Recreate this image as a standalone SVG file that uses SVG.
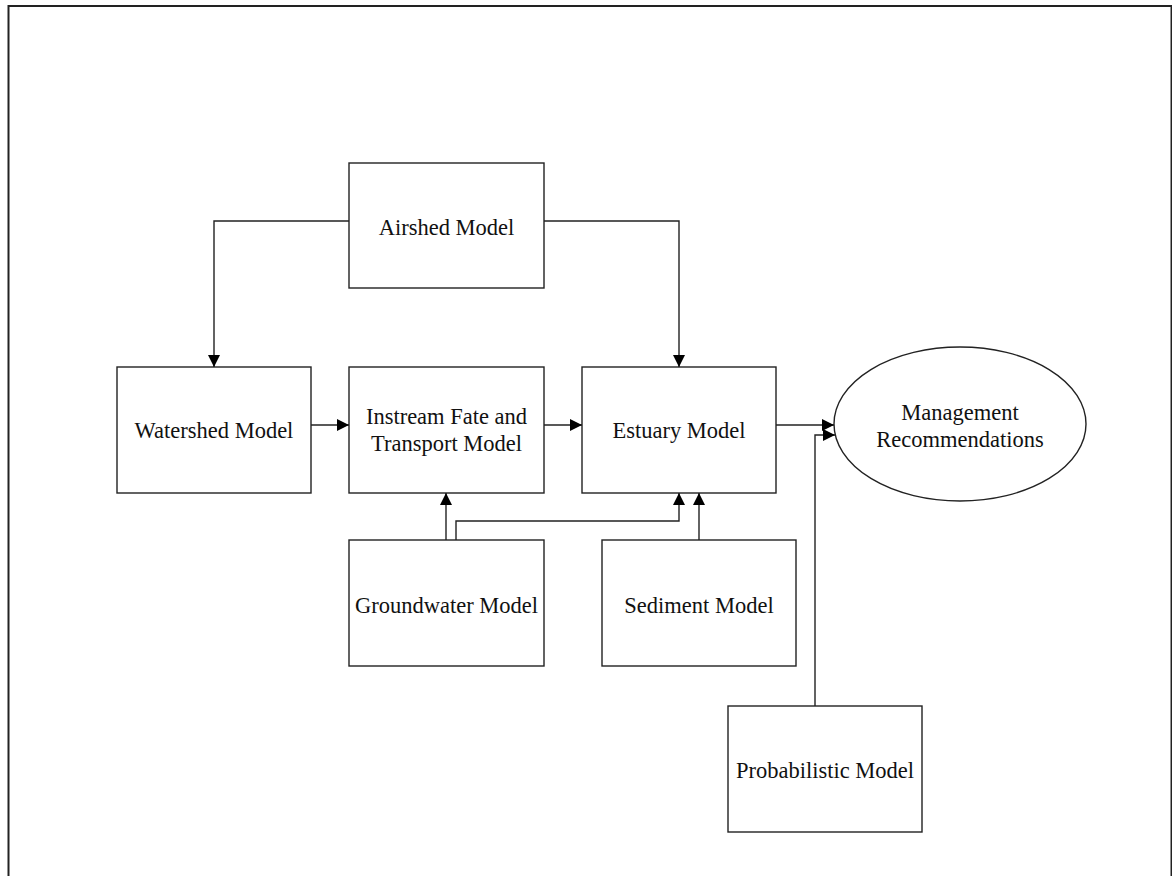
<svg xmlns="http://www.w3.org/2000/svg" width="1172" height="876" viewBox="0 0 1172 876">
<style>
.box{fill:#fff;stroke:#222;stroke-width:1.4}
.lbl{font-family:"Liberation Serif","Times New Roman",serif;font-size:22.5px;fill:#111;text-anchor:middle}
.con{fill:none;stroke:#222;stroke-width:1.4}
</style>
<defs>
<marker id="ah" markerUnits="userSpaceOnUse" markerWidth="13" markerHeight="12" refX="12" refY="6" orient="auto">
<path d="M0,0 L12,6 L0,12 Z" fill="#000"/>
</marker>
</defs>
<rect x="8.5" y="6" width="1163" height="880" fill="#fff" stroke="#222" stroke-width="2"/>
<g id="airshed"><rect class="box" x="349" y="163" width="195" height="125"/><text class="lbl" x="446.5" y="235">Airshed Model</text></g>
<g id="watershed"><rect class="box" x="117" y="367" width="194" height="126"/><text class="lbl" x="214" y="438">Watershed Model</text></g>
<g id="instream"><rect class="box" x="349" y="367" width="195" height="126"/><text class="lbl" x="446.5" y="424">Instream Fate and</text><text class="lbl" x="446.5" y="451">Transport Model</text></g>
<g id="estuary"><rect class="box" x="582" y="367" width="194" height="126"/><text class="lbl" x="679" y="438">Estuary Model</text></g>
<g id="management"><ellipse cx="960" cy="424" rx="126" ry="77" fill="#fff" stroke="#222" stroke-width="1.4"/><text class="lbl" x="960" y="420">Management</text><text class="lbl" x="960" y="447">Recommendations</text></g>
<g id="groundwater"><rect class="box" x="349" y="540" width="195" height="126"/><text class="lbl" x="446.5" y="613">Groundwater Model</text></g>
<g id="sediment"><rect class="box" x="602" y="540" width="194" height="126"/><text class="lbl" x="699" y="613">Sediment Model</text></g>
<g id="probabilistic"><rect class="box" x="728" y="706" width="194" height="126"/><text class="lbl" x="825" y="778">Probabilistic Model</text></g>
<g id="connectors">
<path class="con" d="M349,221 H214 V367" marker-end="url(#ah)"/>
<path class="con" d="M544,221 H679 V367" marker-end="url(#ah)"/>
<path class="con" d="M311,425 H349" marker-end="url(#ah)"/>
<path class="con" d="M544,425 H582" marker-end="url(#ah)"/>
<path class="con" d="M776,425 H834" marker-end="url(#ah)"/>
<path class="con" d="M446,540 V493" marker-end="url(#ah)"/>
<path class="con" d="M456,540 V521 H679 V493" marker-end="url(#ah)"/>
<path class="con" d="M699,540 V493" marker-end="url(#ah)"/>
<path class="con" d="M815,706 V435 H835" marker-end="url(#ah)"/>
</g>
</svg>
